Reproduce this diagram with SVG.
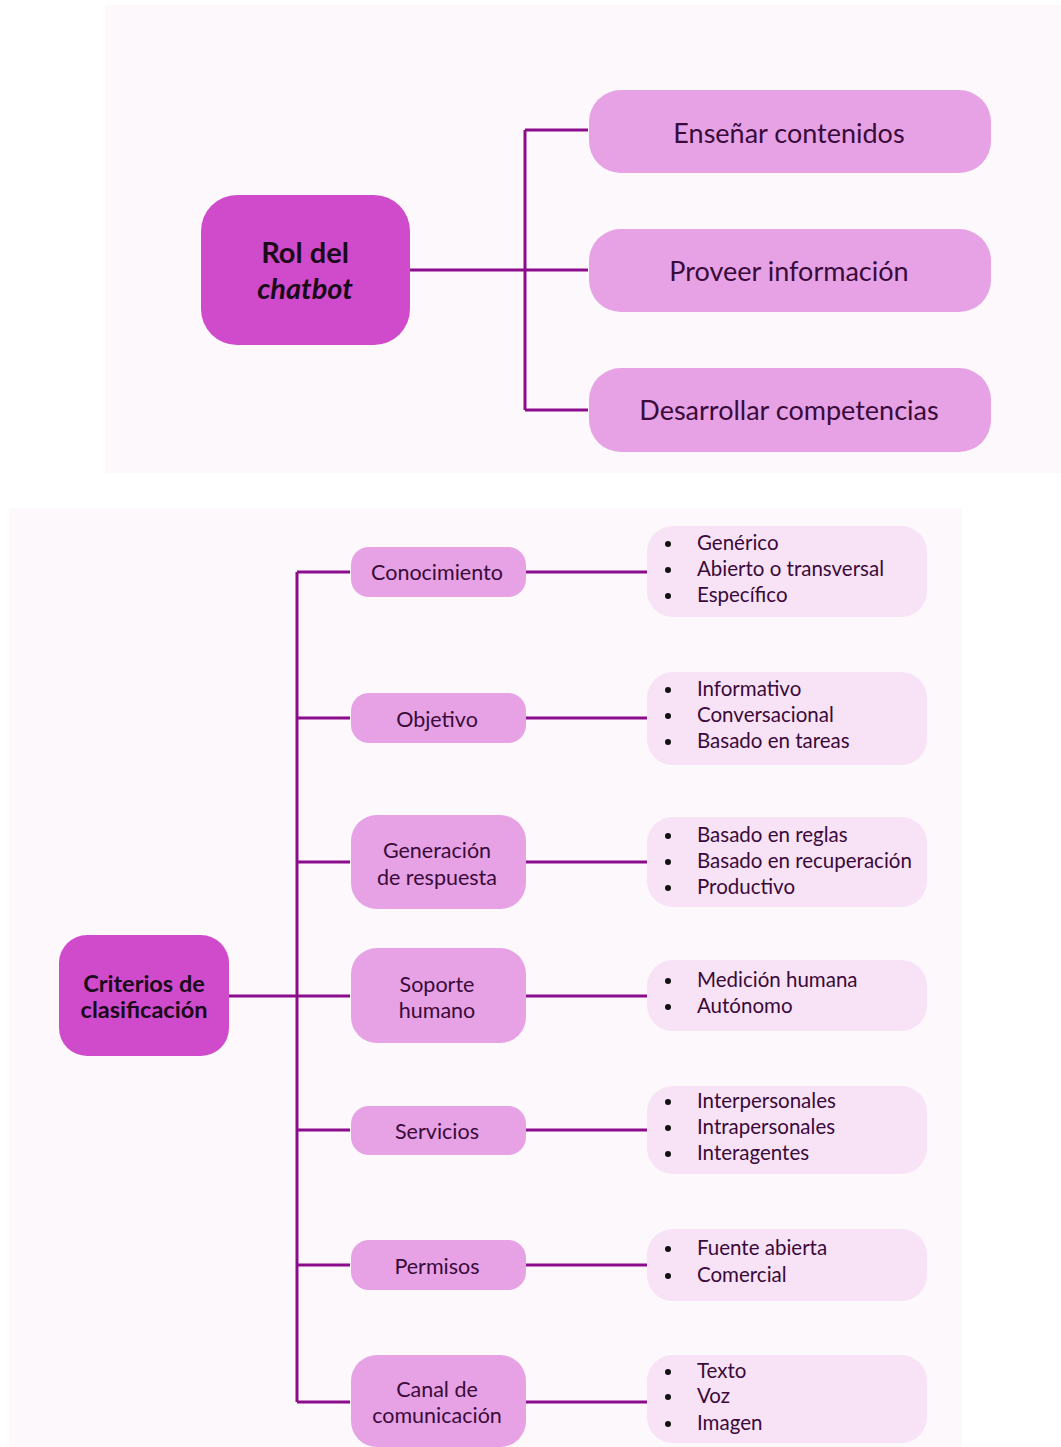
<svg xmlns="http://www.w3.org/2000/svg" width="1061" height="1447" viewBox="0 0 1061 1447">
<style>
.panel{fill:#fcf8fc}
.root{fill:#d04bcc}
.mid{fill:#e6a2e5}
.leaf{fill:#f8e2f6}
.conn{fill:none;stroke:#8c0d8c;stroke-width:3}
text{font-family:Lato,"Open Sans","Liberation Sans",sans-serif;fill:#3a0a3a}
.big{font-size:27px;text-anchor:middle}
.rt{font-size:29px;font-weight:bold;text-anchor:middle;fill:#1a0a1a}
.rt2{font-size:23.5px;font-weight:bold;text-anchor:middle;fill:#1a0a1a}
.m{font-size:21.5px;text-anchor:middle}
.li{font-size:20.5px}
.b{fill:#111}
</style>
<rect class="panel" x="105" y="5" width="956" height="468"/>
<rect class="panel" x="9" y="508" width="953" height="939"/>
<g id="connectors">
<path class="conn" d="M410 270H588M525 130V410M525 130H588M525 410H588"/>
<path class="conn" d="M229 996H350M297 572V1402M297 572H350M297 718H350M297 862H350M297 1130H350M297 1265H350M297 1402H350"/>
<path class="conn" d="M525 572H647M525 718H647M525 862H647M525 996H647M525 1130H647M525 1265H647M525 1402H647"/>
</g>
<g id="rol"><rect class="root" x="201" y="195" width="209" height="150" rx="36"/><text class="rt" x="305" y="263">Rol del</text><text class="rt" x="305" y="299" font-style="italic">chatbot</text></g>
<g id="ensenar"><rect class="mid" x="589" y="90" width="402" height="83" rx="32"/><text class="big" x="789" y="143">Enseñar contenidos</text></g>
<g id="proveer"><rect class="mid" x="589" y="229" width="402" height="83" rx="32"/><text class="big" x="789" y="281">Proveer información</text></g>
<g id="desarrollar"><rect class="mid" x="589" y="368" width="402" height="84" rx="32"/><text class="big" x="789" y="420">Desarrollar competencias</text></g>

<g id="criterios"><rect class="root" x="59" y="935" width="170" height="121" rx="28"/><text class="rt2" x="144" y="992">Criterios de</text><text class="rt2" x="144" y="1018">clasificación</text></g>

<g id="conocimiento"><rect class="mid" x="351" y="547" width="175" height="50" rx="18"/><text class="m" x="437" y="580">Conocimiento</text></g>
<g id="objetivo"><rect class="mid" x="351" y="693" width="175" height="50" rx="18"/><text class="m" x="437" y="727">Objetivo</text></g>
<g id="generacion"><rect class="mid" x="351" y="815" width="175" height="94" rx="26"/><text class="m" x="437" y="858">Generación</text><text class="m" x="437" y="885">de respuesta</text></g>
<g id="soporte"><rect class="mid" x="351" y="948" width="175" height="95" rx="26"/><text class="m" x="437" y="992">Soporte</text><text class="m" x="437" y="1018">humano</text></g>
<g id="servicios"><rect class="mid" x="351" y="1106" width="175" height="49" rx="18"/><text class="m" x="437" y="1139">Servicios</text></g>
<g id="permisos"><rect class="mid" x="351" y="1240" width="175" height="50" rx="18"/><text class="m" x="437" y="1274">Permisos</text></g>
<g id="canal"><rect class="mid" x="351" y="1355" width="175" height="92" rx="26"/><text class="m" x="437" y="1397">Canal de</text><text class="m" x="437" y="1423">comunicación</text></g>

<g id="l-conocimiento"><rect class="leaf" x="647" y="526" width="280" height="91" rx="26"/>
<circle class="b" cx="668" cy="544" r="3"/><circle class="b" cx="668" cy="570" r="3"/><circle class="b" cx="668" cy="596" r="3"/>
<text class="li" x="697" y="550">Genérico</text><text class="li" x="697" y="576">Abierto o transversal</text><text class="li" x="697" y="602">Específico</text></g>
<g id="l-objetivo"><rect class="leaf" x="647" y="672" width="280" height="93" rx="26"/>
<circle class="b" cx="668" cy="690" r="3"/><circle class="b" cx="668" cy="716" r="3"/><circle class="b" cx="668" cy="742" r="3"/>
<text class="li" x="697" y="696">Informativo</text><text class="li" x="697" y="722">Conversacional</text><text class="li" x="697" y="748">Basado en tareas</text></g>
<g id="l-generacion"><rect class="leaf" x="647" y="817" width="280" height="90" rx="26"/>
<circle class="b" cx="668" cy="836" r="3"/><circle class="b" cx="668" cy="862" r="3"/><circle class="b" cx="668" cy="888" r="3"/>
<text class="li" x="697" y="842">Basado en reglas</text><text class="li" x="697" y="868">Basado en recuperación</text><text class="li" x="697" y="894">Productivo</text></g>
<g id="l-soporte"><rect class="leaf" x="647" y="960" width="280" height="71" rx="26"/>
<circle class="b" cx="668" cy="981" r="3"/><circle class="b" cx="668" cy="1007" r="3"/>
<text class="li" x="697" y="987">Medición humana</text><text class="li" x="697" y="1013">Autónomo</text></g>
<g id="l-servicios"><rect class="leaf" x="647" y="1086" width="280" height="88" rx="26"/>
<circle class="b" cx="668" cy="1102" r="3"/><circle class="b" cx="668" cy="1128" r="3"/><circle class="b" cx="668" cy="1154" r="3"/>
<text class="li" x="697" y="1108">Interpersonales</text><text class="li" x="697" y="1134">Intrapersonales</text><text class="li" x="697" y="1160">Interagentes</text></g>
<g id="l-permisos"><rect class="leaf" x="647" y="1229" width="280" height="72" rx="26"/>
<circle class="b" cx="668" cy="1249" r="3"/><circle class="b" cx="668" cy="1276" r="3"/>
<text class="li" x="697" y="1255">Fuente abierta</text><text class="li" x="697" y="1282">Comercial</text></g>
<g id="l-canal"><rect class="leaf" x="647" y="1355" width="280" height="88" rx="26"/>
<circle class="b" cx="668" cy="1372" r="3"/><circle class="b" cx="668" cy="1397" r="3"/><circle class="b" cx="668" cy="1424" r="3"/>
<text class="li" x="697" y="1378">Texto</text><text class="li" x="697" y="1403">Voz</text><text class="li" x="697" y="1430">Imagen</text></g>
</svg>
